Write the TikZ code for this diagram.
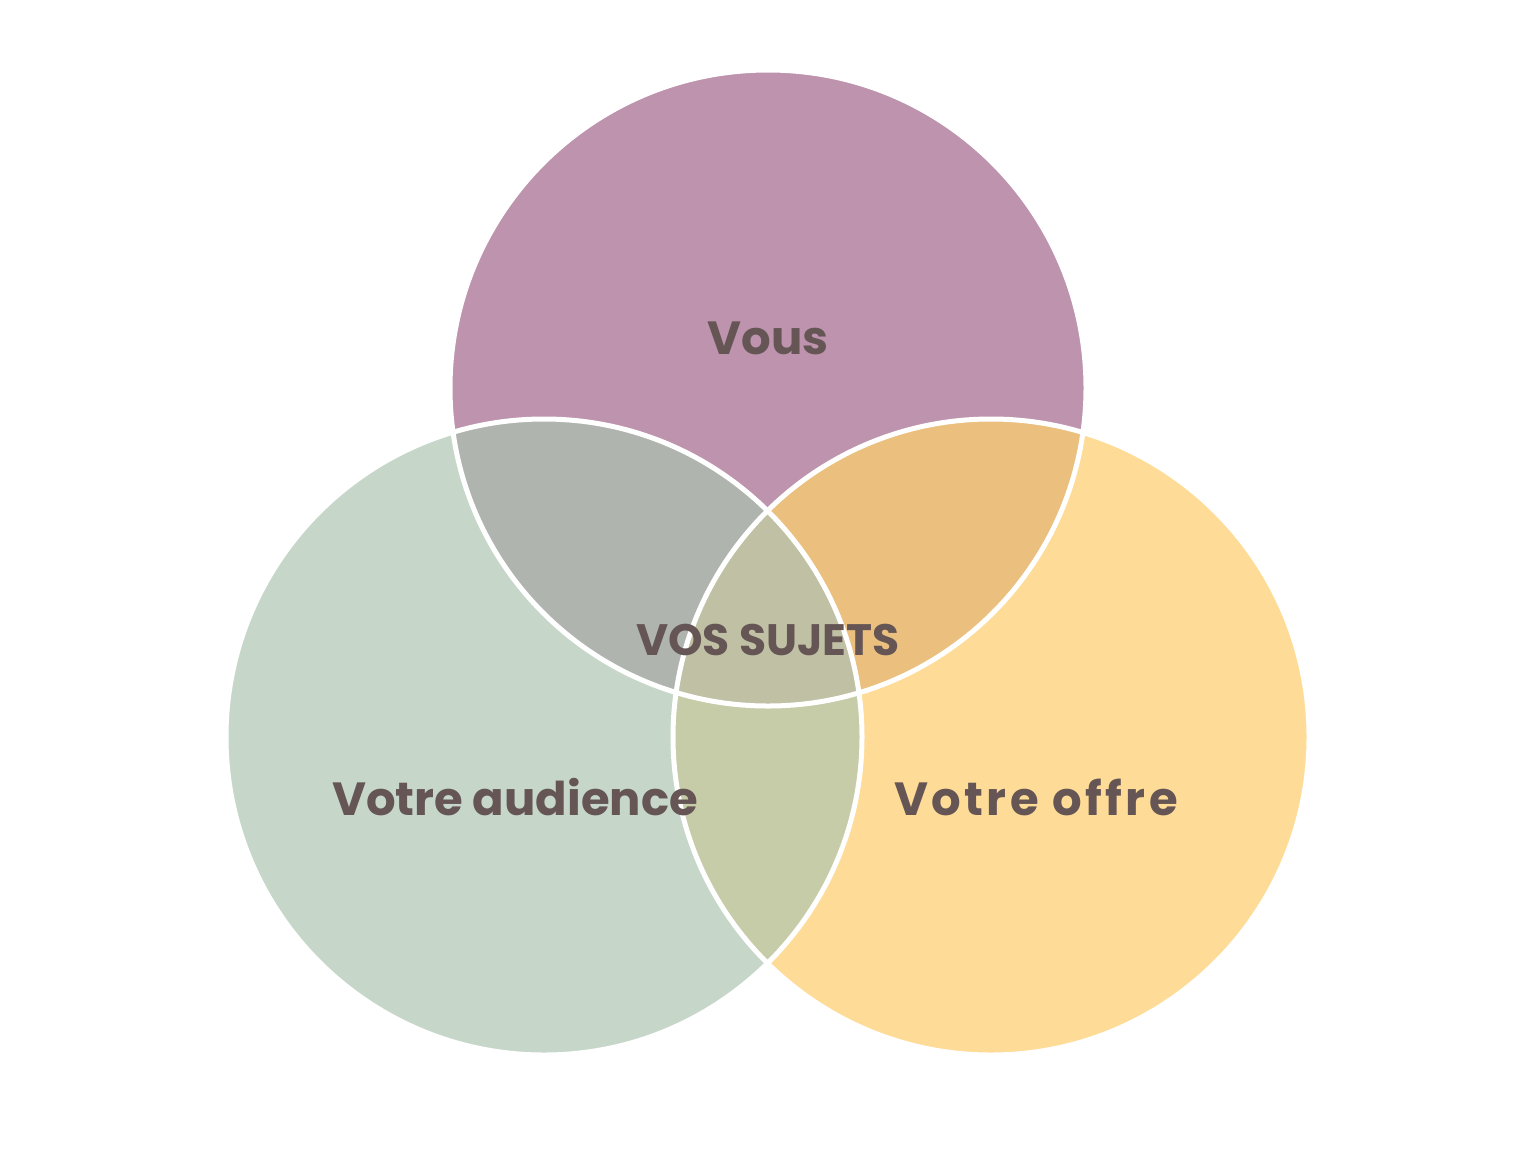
\documentclass[tikz,border=0pt]{standalone}
\usepackage{fontspec}
\setmainfont{Poppins}
\definecolor{cpurple}{HTML}{BD93AD}
\definecolor{cgreen}{HTML}{C6D7CA}
\definecolor{cyellow}{HTML}{FEDC97}
\definecolor{cpg}{HTML}{AFB5AE}
\definecolor{cpy}{HTML}{EBBF7E}
\definecolor{cgy}{HTML}{C6CCA8}
\definecolor{call}{HTML}{C0C1A4}
\definecolor{ctext}{HTML}{655555}
\tikzset{
  lbl/.style={text=ctext, font=\bfseries\fontsize{46.5}{52}\selectfont, inner sep=0pt},
  ring/.style={draw=white, line width=5pt}
}
\begin{document}
\begin{tikzpicture}[x=1pt,y=-1pt]
\useasboundingbox[fill=white] (0,0) rectangle (1536,1152);
\coordinate (T) at (768,388);
\coordinate (L) at (544,737);
\coordinate (R) at (991,737);
\def\rad{318}
\fill[cpurple] (T) circle[radius=\rad];
\fill[cgreen] (L) circle[radius=\rad];
\fill[cyellow] (R) circle[radius=\rad];
\begin{scope}
  \clip (T) circle[radius=\rad];
  \fill[cpg] (L) circle[radius=\rad];
  \fill[cpy] (R) circle[radius=\rad];
\end{scope}
\begin{scope}
  \clip (L) circle[radius=\rad];
  \fill[cgy] (R) circle[radius=\rad];
  \clip (R) circle[radius=\rad];
  \fill[call] (T) circle[radius=\rad];
\end{scope}
\draw[ring] (T) circle[radius=\rad];
\draw[ring] (L) circle[radius=\rad];
\draw[ring] (R) circle[radius=\rad];
\node[lbl] (vous) at (768,338) {Vous};
\node[lbl, font=\bfseries\fontsize{44}{50}\selectfont] (sujets) at (768,640) {VOS SUJETS};
\node[lbl] (aud) at (515,797) {Votre audience};
\node[lbl] (off) at (1036,797) {\addfontfeature{LetterSpace=7.5}Votre offre};
\end{tikzpicture}
\end{document}
